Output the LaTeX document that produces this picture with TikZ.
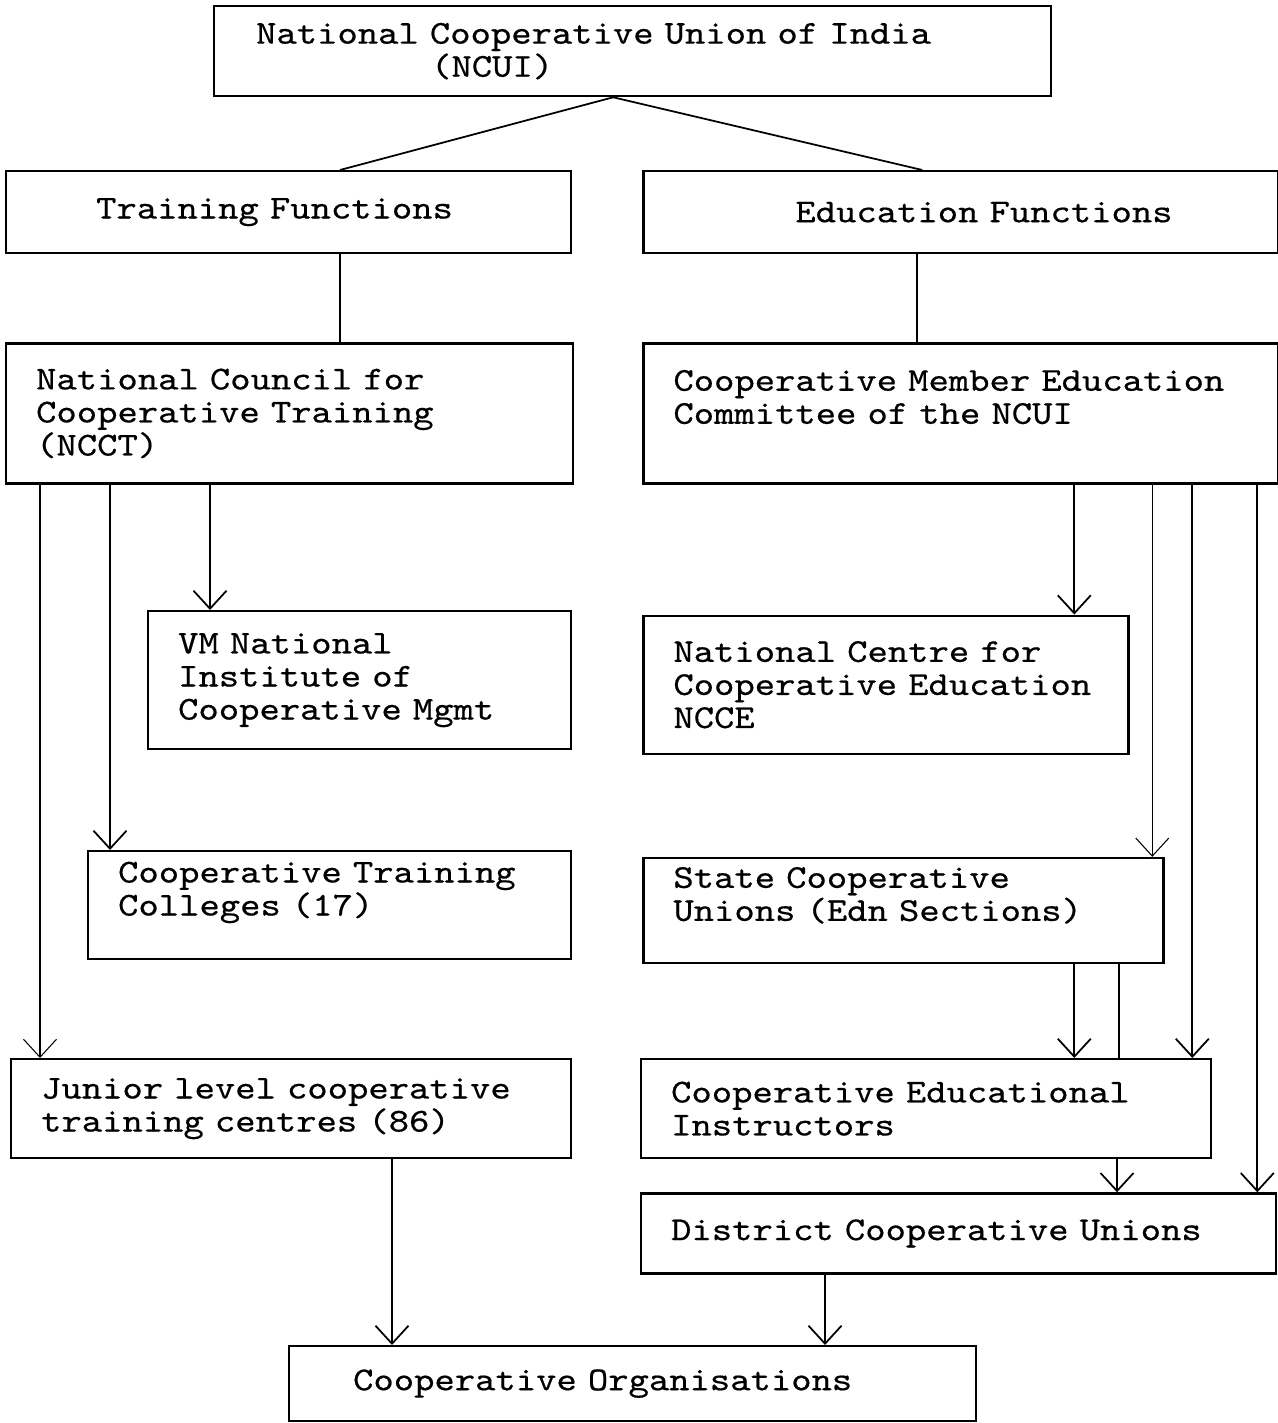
\documentclass[tikz,border=0pt]{standalone}
\usepackage{fontspec}
\usetikzlibrary{arrows.meta, positioning, calc}
\newfontfamily\typedfont{lmmono10-regular.otf}[FakeStretch=1.16, FakeBold=0.5, WordSpace={1,0,0}]
\newcommand{\boxfont}{\typedfont\fontsize{19pt}{18.8pt}\selectfont}

\begin{document}
\begin{tikzpicture}[>={Straight Barb[length=0.36cm, width=0.66cm]},
        box/.style={rectangle, draw, line width=1.3pt, anchor=north west, align=left, inner xsep=0.6cm, inner ysep=0pt, font=\boxfont},
        link/.style={line width=1pt},
        arrow/.style={->, line width=1pt},
        faint/.style={->, line width=0.6pt}]
        \useasboundingbox (0,0) rectangle (25.54,-28.46);

        % top
        \node[box, text width=15.54cm, minimum height=1.8cm] (ncui) at (4.26,-0.1)
            {\hspace*{0.24cm}National Cooperative Union of India\\\hspace*{3.74cm}(NCUI)};

        % two branches
        \node[box, text width=10.1cm, minimum height=1.64cm] (train) at (0.1,-3.4)
            {\hspace*{1.2cm}Training Functions};
        \node[box, text width=11.5cm, minimum height=1.64cm, right=1.4cm of train.north east, anchor=north west] (edu)
            {\hspace*{2.44cm}Education Functions};

        % training side
        \node[box, text width=10.14cm, minimum height=2.8cm, below=1.76cm of train.south west, anchor=north west] (ncct)
            {National Council for\\Cooperative Training\\(NCCT)};
        \node[box, text width=7.26cm, minimum height=2.76cm] (vm) at (2.94,-12.2)
            {VM National\\Institute of\\Cooperative Mgmt};
        \node[box, text width=8.46cm, minimum height=2.16cm] (colleges) at (1.74,-17.0)
            {Cooperative Training\\Colleges (17)\\\mbox{}};
        \node[box, text width=10.0cm, minimum height=1.98cm] (junior) at (0.2,-21.16)
            {Junior level cooperative\\training centres (86)};

        % education side
        \node[box, text width=11.5cm, minimum height=2.8cm, below=1.76cm of edu.south west, anchor=north west] (cmec)
            {Cooperative Member Education\\Committee of the NCUI\\\mbox{}};
        \node[box, text width=8.5cm, minimum height=2.76cm, below=2.6cm of cmec.south west, anchor=north west] (ncce)
            {National Centre for\\Cooperative~Education\\NCCE};
        \node[box, text width=9.2cm, minimum height=2.1cm, below=2.04cm of ncce.south west, anchor=north west] (scu)
            {State Cooperative\\Unions (Edn Sections)\\\mbox{}};
        \node[box, text width=10.2cm, minimum height=1.98cm] (cei) at (12.8,-21.16)
            {Cooperative Educational\\Instructors};
        \node[box, text width=11.5cm, minimum height=1.6cm, below=0.66cm of cei.south west, anchor=north west] (dcu)
            {District Cooperative Unions};

        % bottom
        \node[box, text width=12.54cm, minimum height=1.5cm] (coop) at (5.76,-26.9)
            {\hspace*{0.68cm}Cooperative Organisations};

        % connectors
        \coordinate (apex) at ($(ncui.south)+(-0.39,0)$);
        \draw[link] (apex) -- ($(train.north west)+(6.7,0)$);
        \draw[link] (apex) -- ($(edu.north west)+(5.6,0)$);
        \draw[link] ($(train.south west)+(6.7,0)$) coordinate (p) -- (p |- ncct.north);
        \draw[link] ($(edu.south west)+(5.5,0)$) coordinate (p) -- (p |- cmec.north);

        \draw[faint] ($(ncct.south west)+(0.7,0)$) coordinate (p) -- (p |- junior.north);
        \draw[arrow] ($(ncct.south west)+(2.1,0)$) coordinate (p) -- (p |- colleges.north);
        \draw[arrow] ($(ncct.south west)+(4.1,0)$) coordinate (p) -- (p |- vm.north);

        \draw[arrow] ($(cmec.south west)+(8.64,0)$) coordinate (p) -- (p |- ncce.north);
        \draw[faint] ($(cmec.south west)+(10.2,0)$) coordinate (p) -- (p |- scu.north);
        \draw[arrow] ($(cmec.south west)+(11.0,0)$) coordinate (p) -- (p |- cei.north);
        \draw[arrow] ($(cmec.south west)+(12.3,0)$) coordinate (p) -- (p |- dcu.north);

        \draw[arrow] ($(scu.south west)+(8.64,0)$) coordinate (p) -- (p |- cei.north);
        \draw[link] ($(scu.south west)+(9.54,0)$) coordinate (p) -- (p |- cei.north);
        \draw[arrow] ($(cei.south west)+(9.54,0)$) coordinate (p) -- (p |- dcu.north);

        \draw[arrow] ($(junior.south west)+(7.64,0)$) coordinate (p) -- (p |- coop.north);
        \draw[arrow] ($(dcu.south west)+(3.7,0)$) coordinate (p) -- (p |- coop.north);
\end{tikzpicture}
\end{document}
